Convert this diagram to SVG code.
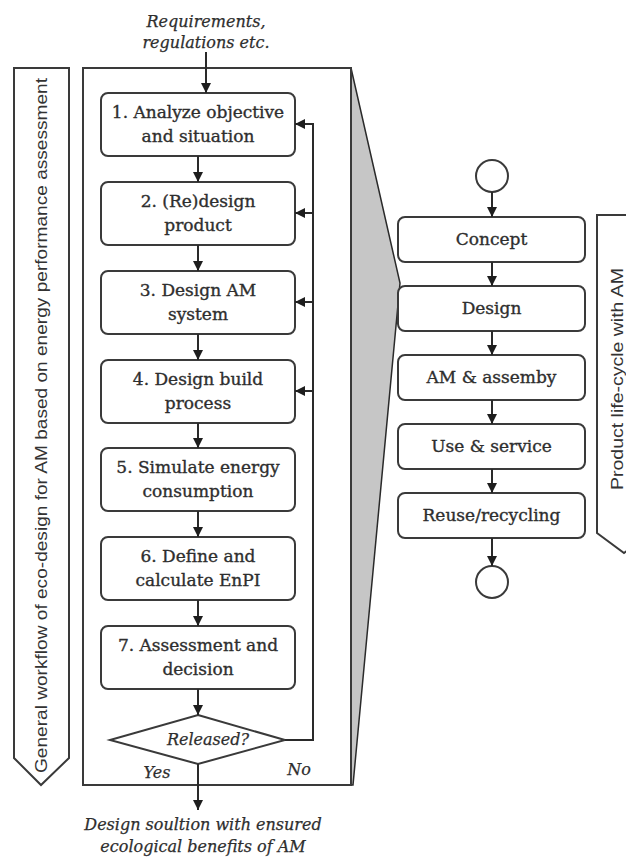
<svg xmlns="http://www.w3.org/2000/svg" width="626" height="859" viewBox="0 0 626 859">
<style>
.box{fill:#fff;stroke:#3a3a3a;stroke-width:2}
.frame{fill:none;stroke:#3a3a3a;stroke-width:2}
.t{font-family:"DejaVu Serif","Liberation Serif",serif;font-size:17px;fill:#2e2e2e;stroke:#2e2e2e;stroke-width:0.35;text-anchor:middle}
.it{font-family:"DejaVu Serif","Liberation Serif",serif;font-style:italic;font-size:16px;fill:#2e2e2e;stroke:#2e2e2e;stroke-width:0.25;text-anchor:middle}
.side{font-family:"Liberation Sans","Open Sans",sans-serif;font-size:17px;fill:#333;text-anchor:middle}
.ln{fill:none;stroke:#2a2a2a;stroke-width:2}
</style>
<defs>
<marker id="ah" viewBox="0 0 10 10" refX="10" refY="5" markerWidth="10" markerHeight="10" markerUnits="userSpaceOnUse" orient="auto">
<path d="M0,0 L10,5 L0,10 z" fill="#1e1e1e"/>
</marker>
</defs>
<rect width="626" height="859" fill="#fff"/>

<g id="wedge">
<polygon points="351,68 400,283 353,785 351,785" fill="#c6c6c6" stroke="#2a2a2a" stroke-width="1.5"/>
</g>

<g id="frame">
<rect x="83" y="68" width="268" height="717" class="frame"/>
</g>

<g id="left-banner">
<polygon points="14,68 69,68 69,758 41,785 14,758" class="frame" stroke-width="1.5"/>
<text class="side" transform="translate(47,425.5) rotate(-90)" textLength="695" lengthAdjust="spacingAndGlyphs">General workflow of eco-design for AM based on energy performance assessment</text>
</g>

<g id="right-banner">
<polygon points="597,215 652,215 652,533 624,553 597,533" class="frame" stroke-width="1.5"/>
<text class="side" transform="translate(623,379) rotate(-90)" textLength="222" lengthAdjust="spacingAndGlyphs">Product life-cycle with AM</text>
</g>

<g id="input-label">
<text class="it" x="206" y="27">Requirements,</text>
<text class="it" x="206" y="48">regulations etc.</text>
</g>

<g id="step1"><rect class="box" x="101" y="93" width="194" height="63" rx="7"/>
<text class="t" x="198" y="118">1. Analyze objective</text><text class="t" x="198" y="142">and situation</text></g>
<g id="step2"><rect class="box" x="101" y="182" width="194" height="63" rx="7"/>
<text class="t" x="198" y="207">2. (Re)design</text><text class="t" x="198" y="231">product</text></g>
<g id="step3"><rect class="box" x="101" y="271" width="194" height="63" rx="7"/>
<text class="t" x="198" y="296">3. Design AM</text><text class="t" x="198" y="320">system</text></g>
<g id="step4"><rect class="box" x="101" y="360" width="194" height="63" rx="7"/>
<text class="t" x="198" y="385">4. Design build</text><text class="t" x="198" y="409">process</text></g>
<g id="step5"><rect class="box" x="101" y="448" width="194" height="63" rx="7"/>
<text class="t" x="198" y="473">5. Simulate energy</text><text class="t" x="198" y="497">consumption</text></g>
<g id="step6"><rect class="box" x="101" y="537" width="194" height="63" rx="7"/>
<text class="t" x="198" y="562">6. Define and</text><text class="t" x="198" y="586">calculate EnPI</text></g>
<g id="step7"><rect class="box" x="101" y="626" width="194" height="63" rx="7"/>
<text class="t" x="198" y="651">7. Assessment and</text><text class="t" x="198" y="675">decision</text></g>

<g id="decision">
<polygon points="198,715 285,740 198,764 110,740" class="box"/>
<text class="it" x="208" y="745">Released?</text>
</g>
<g id="yes-label"><text class="it" x="157" y="778">Yes</text></g>
<g id="no-label"><text class="it" x="299" y="775">No</text></g>

<g id="output-label">
<text class="it" x="203" y="830">Design soultion with ensured</text>
<text class="it" x="203" y="852">ecological benefits of AM</text>
</g>

<g id="start"><circle cx="492" cy="176" r="16" class="box"/></g>
<g id="concept"><rect class="box" x="398" y="217" width="187" height="45" rx="7"/><text class="t" x="491.5" y="245">Concept</text></g>
<g id="design"><rect class="box" x="398" y="286" width="187" height="45" rx="7"/><text class="t" x="491.5" y="314">Design</text></g>
<g id="am"><rect class="box" x="398" y="355" width="187" height="45" rx="7"/><text class="t" x="491.5" y="383">AM &amp; assemby</text></g>
<g id="use"><rect class="box" x="398" y="424" width="187" height="45" rx="7"/><text class="t" x="491.5" y="452">Use &amp; service</text></g>
<g id="reuse"><rect class="box" x="398" y="493" width="187" height="45" rx="7"/><text class="t" x="491.5" y="521">Reuse/recycling</text></g>
<g id="end"><circle cx="492" cy="582" r="16" class="box"/></g>

<g id="connectors">
<line class="ln" x1="206" y1="52" x2="206" y2="93" marker-end="url(#ah)"/>
<line class="ln" x1="198" y1="156" x2="198" y2="182" marker-end="url(#ah)"/>
<line class="ln" x1="198" y1="245" x2="198" y2="271" marker-end="url(#ah)"/>
<line class="ln" x1="198" y1="334" x2="198" y2="360" marker-end="url(#ah)"/>
<line class="ln" x1="198" y1="423" x2="198" y2="448" marker-end="url(#ah)"/>
<line class="ln" x1="198" y1="511" x2="198" y2="537" marker-end="url(#ah)"/>
<line class="ln" x1="198" y1="600" x2="198" y2="626" marker-end="url(#ah)"/>
<line class="ln" x1="198" y1="689" x2="198" y2="715" marker-end="url(#ah)"/>
<line class="ln" x1="198" y1="764" x2="198" y2="810" marker-end="url(#ah)"/>
<polyline class="ln" points="285,740 313,740 313,124 295,124" marker-end="url(#ah)"/>
<line class="ln" x1="313" y1="213" x2="295" y2="213" marker-end="url(#ah)"/>
<line class="ln" x1="313" y1="302" x2="295" y2="302" marker-end="url(#ah)"/>
<line class="ln" x1="313" y1="391" x2="295" y2="391" marker-end="url(#ah)"/>
<line class="ln" x1="492" y1="192" x2="492" y2="217" marker-end="url(#ah)"/>
<line class="ln" x1="492" y1="262" x2="492" y2="286" marker-end="url(#ah)"/>
<line class="ln" x1="492" y1="331" x2="492" y2="355" marker-end="url(#ah)"/>
<line class="ln" x1="492" y1="400" x2="492" y2="424" marker-end="url(#ah)"/>
<line class="ln" x1="492" y1="469" x2="492" y2="493" marker-end="url(#ah)"/>
<line class="ln" x1="492" y1="538" x2="492" y2="566" marker-end="url(#ah)"/>
</g>
</svg>
